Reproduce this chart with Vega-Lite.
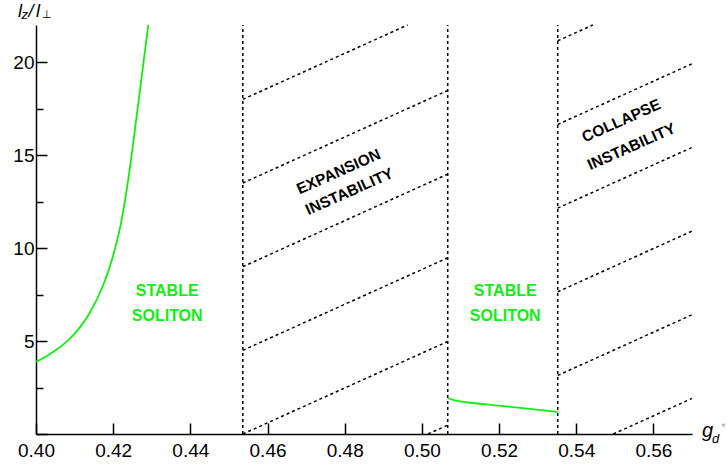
{
  "$schema": "https://vega.github.io/schema/vega-lite/v6.json",
  "autosize": "none",
  "width": 656,
  "height": 409,
  "padding": {"left": 36, "top": 25, "right": 35, "bottom": 35},
  "background": "white",
  "config": {
    "view": {"stroke": null},
    "font": "Liberation Sans",
    "axis": {
      "grid": false,
      "domainColor": "black",
      "domainWidth": 1.5,
      "tickColor": "black",
      "tickWidth": 1.5,
      "labelColor": "black",
      "labelFont": "Liberation Sans",
      "labelFontSize": 19,
      "labelOverlap": false,
      "labelFlush": false,
      "title": null
    }
  },
  "datasets": {
    "boundaries": [
      {"gd": 0.4536},
      {"gd": 0.5067},
      {"gd": 0.5352}
    ],
    "hatch": [
      {"x": 0.5016, "y": 0, "x2": 0.5067, "y2": 0.478},
      {"x": 0.4536, "y": 0, "x2": 0.5067, "y2": 4.978},
      {"x": 0.4536, "y": 4.5, "x2": 0.5067, "y2": 9.478},
      {"x": 0.4536, "y": 9, "x2": 0.5067, "y2": 13.978},
      {"x": 0.4536, "y": 13.5, "x2": 0.5067, "y2": 18.478},
      {"x": 0.4536, "y": 18, "x2": 0.4963, "y2": 22},
      {"x": 0.5496, "y": 0, "x2": 0.57, "y2": 1.913},
      {"x": 0.5352, "y": 3.15, "x2": 0.57, "y2": 6.413},
      {"x": 0.5352, "y": 7.65, "x2": 0.57, "y2": 10.913},
      {"x": 0.5352, "y": 12.15, "x2": 0.57, "y2": 15.413},
      {"x": 0.5352, "y": 16.65, "x2": 0.57, "y2": 19.913},
      {"x": 0.5352, "y": 21.15, "x2": 0.5443, "y2": 22}
    ],
    "stability": [
      {"branch": "low", "gd": 0.4, "ratio": 3.88},
      {"branch": "low", "gd": 0.4025, "ratio": 4.16},
      {"branch": "low", "gd": 0.405, "ratio": 4.49},
      {"branch": "low", "gd": 0.4075, "ratio": 4.89},
      {"branch": "low", "gd": 0.41, "ratio": 5.4},
      {"branch": "low", "gd": 0.412, "ratio": 5.91},
      {"branch": "low", "gd": 0.414, "ratio": 6.55},
      {"branch": "low", "gd": 0.417, "ratio": 7.8},
      {"branch": "low", "gd": 0.42, "ratio": 9.6},
      {"branch": "low", "gd": 0.422, "ratio": 11.32},
      {"branch": "low", "gd": 0.424, "ratio": 13.82},
      {"branch": "low", "gd": 0.426, "ratio": 16.97},
      {"branch": "low", "gd": 0.428, "ratio": 20.22},
      {"branch": "low", "gd": 0.4291, "ratio": 22.0},
      {"branch": "high", "gd": 0.5067, "ratio": 1.95},
      {"branch": "high", "gd": 0.5083, "ratio": 1.82},
      {"branch": "high", "gd": 0.5169, "ratio": 1.59},
      {"branch": "high", "gd": 0.5255, "ratio": 1.41},
      {"branch": "high", "gd": 0.5352, "ratio": 1.19}
    ]
  },
  "layer": [
    {
      "data": {"name": "hatch"},
      "mark": {"type": "rule", "color": "black", "strokeWidth": 1.5, "strokeDash": [3, 3]},
      "encoding": {
        "x": {
          "field": "x",
          "type": "quantitative",
          "scale": {"domain": [0.4, 0.57], "nice": false, "zero": false},
          "axis": {
            "values": [0.4, 0.41, 0.42, 0.43, 0.44, 0.45, 0.46, 0.47, 0.48, 0.49, 0.5, 0.51, 0.52, 0.53, 0.54, 0.55, 0.56, 0.57],
            "labelExpr": "round(datum.value * 100) % 2 === 0 ? format(datum.value, '.2f') : ''",
            "tickSize": {"condition": {"test": "round(datum.value * 100) % 2 === 0", "value": -11}, "value": -7},
            "labelPadding": 18
          }
        },
        "y": {
          "field": "y",
          "type": "quantitative",
          "scale": {"domain": [0, 22], "nice": false},
          "axis": {
            "values": [0, 2.5, 5, 7.5, 10, 12.5, 15, 17.5, 20],
            "labelExpr": "datum.value % 5 === 0 && datum.value > 0 ? datum.label : ''",
            "tickSize": {"condition": {"test": "datum.value % 5 === 0", "value": -11}, "value": -7},
            "labelPadding": 13
          }
        },
        "x2": {"field": "x2"},
        "y2": {"field": "y2"}
      }
    },
    {
      "data": {"name": "boundaries"},
      "mark": {"type": "rule", "color": "black", "strokeWidth": 1.5, "strokeDash": [3, 3]},
      "encoding": {
        "x": {"field": "gd", "type": "quantitative"},
        "y": {"datum": 0},
        "y2": {"datum": 22}
      }
    },
    {
      "data": {"name": "stability"},
      "mark": {"type": "line", "color": "#11ee11", "strokeWidth": 1.8, "interpolate": "monotone"},
      "encoding": {
        "x": {"field": "gd", "type": "quantitative"},
        "y": {"field": "ratio", "type": "quantitative"},
        "detail": {"field": "branch"}
      }
    },
    {
      "data": {"values": [
        {"gd": 0.434, "ratio": 7.68, "text": "STABLE"},
        {"gd": 0.434, "ratio": 6.33, "text": "SOLITON"},
        {"gd": 0.5216, "ratio": 7.68, "text": "STABLE"},
        {"gd": 0.5216, "ratio": 6.33, "text": "SOLITON"}
      ]},
      "mark": {"type": "text", "color": "#11ee11", "fontWeight": "bold", "fontSize": 16, "font": "Liberation Sans", "align": "center", "baseline": "middle"},
      "encoding": {
        "x": {"field": "gd", "type": "quantitative"},
        "y": {"field": "ratio", "type": "quantitative"},
        "text": {"field": "text"}
      }
    },
    {
      "data": {"values": [
        {"gd": 0.4784, "ratio": 14.11, "text": "EXPANSION"},
        {"gd": 0.4812, "ratio": 13.04, "text": "INSTABILITY"},
        {"gd": 0.5517, "ratio": 16.85, "text": "COLLAPSE"},
        {"gd": 0.5543, "ratio": 15.46, "text": "INSTABILITY"}
      ]},
      "mark": {"type": "text", "color": "black", "fontWeight": "bold", "fontSize": 15.5, "font": "Liberation Sans", "align": "center", "baseline": "middle", "angle": -24},
      "encoding": {
        "x": {"field": "gd", "type": "quantitative"},
        "y": {"field": "ratio", "type": "quantitative"},
        "text": {"field": "text"}
      }
    },
    {
      "data": {"values": [{}]},
      "mark": {"type": "text", "text": "l", "fontStyle": "italic", "fontSize": 18, "align": "left", "baseline": "alphabetic", "dx": -18, "dy": -8, "color": "black"},
      "encoding": {"x": {"datum": 0.4}, "y": {"datum": 22}}
    },
    {
      "data": {"values": [{}]},
      "mark": {"type": "text", "text": "z", "fontStyle": "italic", "fontSize": 13, "align": "left", "baseline": "alphabetic", "dx": -14.5, "dy": -6, "color": "black"},
      "encoding": {"x": {"datum": 0.4}, "y": {"datum": 22}}
    },
    {
      "data": {"values": [{}]},
      "mark": {"type": "text", "text": "/", "fontStyle": "italic", "fontSize": 18, "align": "left", "baseline": "alphabetic", "dx": -7.5, "dy": -8, "color": "black"},
      "encoding": {"x": {"datum": 0.4}, "y": {"datum": 22}}
    },
    {
      "data": {"values": [{}]},
      "mark": {"type": "text", "text": "l", "fontStyle": "italic", "fontSize": 18, "align": "left", "baseline": "alphabetic", "dx": 0, "dy": -8, "color": "black"},
      "encoding": {"x": {"datum": 0.4}, "y": {"datum": 22}}
    },
    {
      "data": {"values": [{}]},
      "mark": {"type": "text", "text": "⊥", "fontSize": 11, "align": "left", "baseline": "alphabetic", "dx": 6, "dy": -7, "color": "black"},
      "encoding": {"x": {"datum": 0.4}, "y": {"datum": 22}}
    },
    {
      "data": {"values": [{}]},
      "mark": {"type": "text", "text": "g", "fontStyle": "italic", "fontSize": 20, "align": "left", "baseline": "alphabetic", "dx": 10, "dy": 3, "color": "black"},
      "encoding": {"x": {"datum": 0.57}, "y": {"datum": 0}}
    },
    {
      "data": {"values": [{}]},
      "mark": {"type": "text", "text": "d", "fontStyle": "italic", "fontSize": 13, "align": "left", "baseline": "alphabetic", "dx": 20, "dy": 8.5, "color": "black"},
      "encoding": {"x": {"datum": 0.57}, "y": {"datum": 0}}
    },
    {
      "data": {"values": [{}]},
      "mark": {"type": "text", "text": "*", "fontSize": 10, "align": "left", "baseline": "alphabetic", "dx": 29.5, "dy": -3, "color": "#999999"},
      "encoding": {"x": {"datum": 0.57}, "y": {"datum": 0}}
    }
  ]
}
